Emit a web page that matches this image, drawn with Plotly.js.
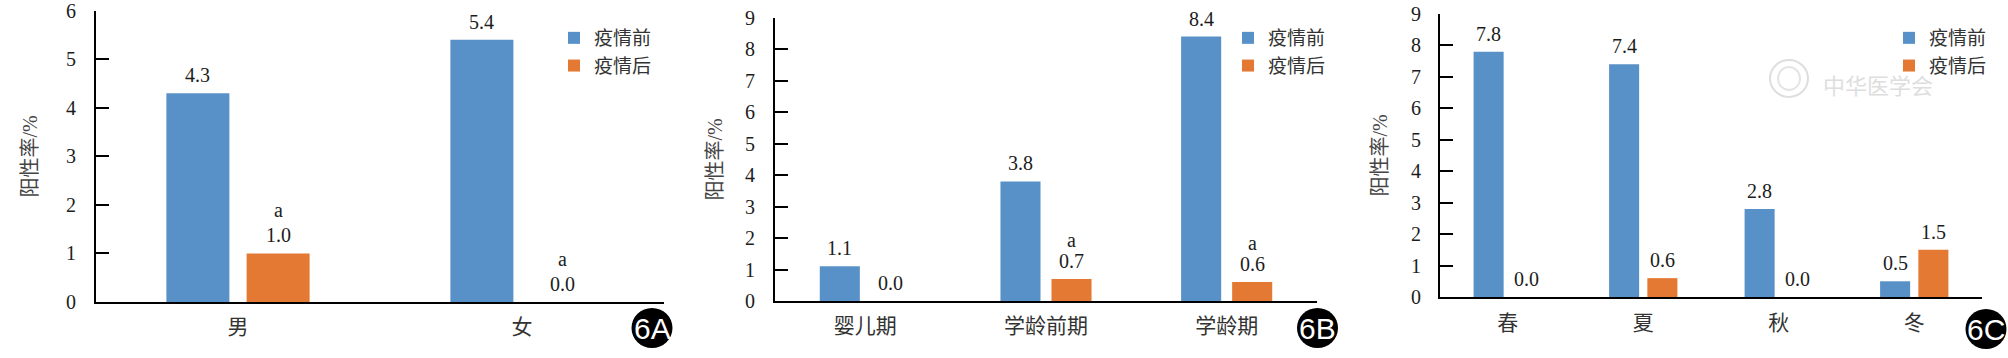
<!DOCTYPE html>
<html>
<head>
<meta charset="utf-8">
<script src="https://cdn.plot.ly/plotly-3.0.1.min.js"></script>
<style>html,body{margin:0;padding:0;background:#fff;overflow:hidden}</style>
</head>
<body>
<div id="chart" style="width:2008px;height:358px"></div>
<script>
const seriesNames = ['疫情前', '疫情后'];
const yTitle = '阳性率/%';

const categoriesA = ['男', '女'];
const beforeA = [4.3, 5.4];
const afterA = [1.0, 0.0];
const marksAfterA = ['a', 'a'];

const categoriesB = ['婴儿期', '学龄前期', '学龄期'];
const beforeB = [1.1, 3.8, 8.4];
const afterB = [0.0, 0.7, 0.6];
const marksAfterB = ['', 'a', 'a'];

const categoriesC = ['春', '夏', '秋', '冬'];
const beforeC = [7.8, 7.4, 2.8, 0.5];
const afterC = [0.0, 0.6, 0.0, 1.5];
const marksAfterC = ['', '', '', ''];

const W = 2008, H = 358;
const BLUE = '#5891C8', ORANGE = '#E47933', INK = '#1c1c1c';
const SERIF = '"Liberation Serif","Noto Sans CJK SC",serif';
const BARGAP = 0.435, GROUPGAP = 0.215;

const panels = [
  {k:'', cats:categoriesA, a:beforeA, b:afterA, m:marksAfterA, ymax:6, badge:'6A',
   left:96, right:664, top:10.7, bottom:302, lx:554, ly:19, bx:652, by:328, markGap:25, tickOff:14, catOff:5, titleOff:23},
  {k:'2', cats:categoriesB, a:beforeB, b:afterB, m:marksAfterB, ymax:9, badge:'6B',
   left:775, right:1317, top:17.7, bottom:301, lx:1228, ly:19, bx:1317.5, by:328, markGap:21, tickOff:14, catOff:5, titleOff:17},
  {k:'3', cats:categoriesC, a:beforeC, b:afterC, m:marksAfterC, ymax:9, badge:'6C',
   left:1440, right:1982, top:14, bottom:297, lx:1889, ly:19, bx:1986, by:329, markGap:21, tickOff:13, catOff:6, titleOff:18}
];

const data = [], annotations = [], shapes = [];
const layout = {
  width: W, height: H, margin: {l:0, r:0, t:0, b:0},
  paper_bgcolor: '#fff', plot_bgcolor: 'rgba(0,0,0,0)',
  barmode: 'group', bargap: BARGAP, bargroupgap: GROUPGAP,
  font: {family: SERIF, color: INK, size: 20},
  annotations, shapes
};

panels.forEach(p => {
  const xa = 'x' + p.k, ya = 'y' + p.k, lg = 'legend' + p.k;
  [p.a, p.b].forEach((vals, i) => data.push({
    type: 'bar', name: seriesNames[i], x: p.cats, y: vals,
    xaxis: xa, yaxis: ya, legend: lg,
    marker: {color: i ? ORANGE : BLUE, line: {width: 0}},
    hoverinfo: 'x+y+name'
  }));

  layout['xaxis' + p.k] = {
    domain: [p.left / W, p.right / W], anchor: ya, type: 'category',
    showline: true, linecolor: '#000', linewidth: 2, ticks: '', showgrid: false, zeroline: false,
    ticklabelstandoff: p.catOff, tickfont: {size: 21, family: SERIF, color: '#333'}
  };
  layout['yaxis' + p.k] = {
    domain: [1 - p.bottom / H, 1 - p.top / H], anchor: xa, range: [0, p.ymax], dtick: 1,
    showline: true, linecolor: '#000', linewidth: 2, ticks: 'inside', ticklen: 13, tickwidth: 2, tickcolor: '#000',
    showgrid: false, zeroline: false, ticklabelstandoff: p.tickOff, ticklabeloverflow: 'allow',
    tickfont: {size: 20, family: SERIF, color: INK},
    title: {text: yTitle, standoff: p.titleOff, font: {size: 20, family: SERIF, color: '#444'}}
  };
  layout[lg] = {
    x: p.lx / W, xanchor: 'left', y: 1 - p.ly / H, yanchor: 'top', xref: 'paper', yref: 'paper',
    bgcolor: 'rgba(0,0,0,0)', borderwidth: 0, font: {size: 19, family: SERIF, color: '#333'},
    traceorder: 'normal', itemclick: false, itemdoubleclick: false
  };

  const catW = (p.right - p.left) / p.cats.length;
  const slot = catW * (1 - BARGAP) / 2;
  p.cats.forEach((c, j) => {
    [p.a[j], p.b[j]].forEach((v, i) => {
      annotations.push({
        xref: xa, yref: ya, x: c, y: v, xshift: (i ? 1 : -1) * slot / 2,
        yanchor: 'middle', yshift: 18, showarrow: false,
        text: v.toFixed(1), font: {size: 20, family: SERIF, color: INK}
      });
      if (i === 1 && p.m[j]) annotations.push({
        xref: xa, yref: ya, x: c, y: v, xshift: slot / 2,
        yanchor: 'middle', yshift: 18 + p.markGap, showarrow: false,
        text: p.m[j], font: {size: 20, family: SERIF, color: INK}
      });
    });
  });

  shapes.push({
    type: 'circle', xref: 'paper', yref: 'paper', layer: 'above',
    x0: (p.bx - 20.5) / W, x1: (p.bx + 20.5) / W,
    y0: 1 - (p.by + 20) / H, y1: 1 - (p.by - 20) / H,
    fillcolor: '#000', line: {width: 0}
  });
  annotations.push({
    xref: 'paper', yref: 'paper', x: p.bx / W, y: 1 - p.by / H, xanchor: 'center', yanchor: 'middle',
    showarrow: false, text: p.badge, font: {size: 30, family: '"Liberation Sans",Arial,sans-serif', color: '#fff'}
  });
});

// 水印
shapes.push({
  type: 'circle', xref: 'paper', yref: 'paper', layer: 'below',
  x0: 1770 / W, x1: 1808 / W, y0: 1 - 97 / H, y1: 1 - 60 / H,
  fillcolor: 'rgba(0,0,0,0)', line: {width: 2, color: '#dedede'}
});
shapes.push({
  type: 'circle', xref: 'paper', yref: 'paper', layer: 'below',
  x0: 1778 / W, x1: 1800 / W, y0: 1 - 90 / H, y1: 1 - 67 / H,
  fillcolor: 'rgba(0,0,0,0)', line: {width: 2, color: '#e4e4e4'}
});
annotations.push({
  xref: 'paper', yref: 'paper', x: 1878 / W, y: 1 - 84 / H, xanchor: 'center', yanchor: 'middle',
  showarrow: false, text: '中华医学会',
  font: {size: 22, family: '"Noto Sans CJK SC",sans-serif', color: '#dedede'}
});

Plotly.newPlot('chart', data, layout, {displayModeBar: false});
</script>
</body>
</html>
